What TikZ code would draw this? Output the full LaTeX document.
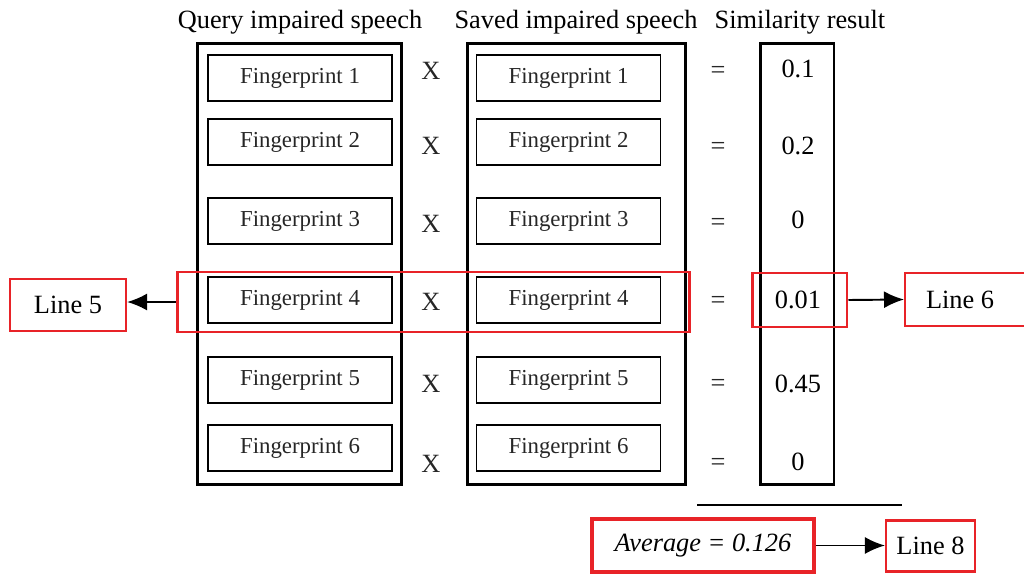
\documentclass[tikz,border=0pt]{standalone}
\usepackage{fontspec}
\setmainfont{Liberation Serif}
\usetikzlibrary{arrows.meta,positioning}
\definecolor{markred}{RGB}{232,35,40}

\begin{document}
\begin{tikzpicture}[
			x=0.02cm, y=-0.02cm,
			column/.style={draw, line width=1.7pt, minimum height=8.84cm, inner sep=0pt},
			fingerprint/.style={draw, line width=1.1pt, minimum width=3.68cm, minimum height=0.92cm, text=black!85, font=\fontsize{13}{15}\selectfont},
			title/.style={font=\fontsize{15}{18}\selectfont},
			sign/.style={font=\fontsize{15}{18}\selectfont, text=black!85},
			value/.style={font=\fontsize{15}{18}\selectfont},
			markbox/.style={draw=markred, line width=1.7pt, inner sep=0pt},
			linebox/.style={draw=markred, line width=1.2pt, font=\fontsize{15}{18}\selectfont},
			pointer/.style={-{Latex[length=4mm, width=3.4mm]}, line width=1.1pt}
			]
			\useasboundingbox (0,0) rectangle (1024,574);
			
			% Titles
			\node[title] (Tq) at (300,22) {Query impaired speech};
			\node[title] (Ts) at (576,22) {Saved impaired speech};
			\node[title] (Tr) at (800,22) {Similarity result};
			
			% Columns
			\node[column, minimum width=4.1cm] (Qcol) at (299.5,264) {};
			\node[column, minimum width=4.38cm] (Scol) at (576.5,264) {};
			\node[column, minimum width=1.48cm] (Rcol) at (797,264) {};
			
			% Query fingerprints
			\node[fingerprint] (Q1) at (300,78) {Fingerprint 1};
			\node[fingerprint] (Q2) at (300,142) {Fingerprint 2};
			\node[fingerprint] (Q3) at (300,221) {Fingerprint 3};
			\node[fingerprint] (Q4) at (300,300) {Fingerprint 4};
			\node[fingerprint] (Q5) at (300,380) {Fingerprint 5};
			\node[fingerprint] (Q6) at (300,448) {Fingerprint 6};
			
			% Saved fingerprints
			\node[fingerprint] (S1) at (568.5,78) {Fingerprint 1};
			\node[fingerprint] (S2) at (568.5,142) {Fingerprint 2};
			\node[fingerprint] (S3) at (568.5,221) {Fingerprint 3};
			\node[fingerprint] (S4) at (568.5,300) {Fingerprint 4};
			\node[fingerprint] (S5) at (568.5,380) {Fingerprint 5};
			\node[fingerprint] (S6) at (568.5,448) {Fingerprint 6};
			
			% Products
			\node[sign] (X1) at (431,71) {X};
			\node[sign] (X2) at (431,146) {X};
			\node[sign] (X3) at (431,224) {X};
			\node[sign] (X4) at (431,302) {X};
			\node[sign] (X5) at (431,384) {X};
			\node[sign] (X6) at (431,464) {X};
			
			\node[sign] (E1) at (718,72) {=};
			\node[sign] (E2) at (718,148) {=};
			\node[sign] (E3) at (718,224) {=};
			\node[sign] (E4) at (718,302) {=};
			\node[sign] (E5) at (718,385) {=};
			\node[sign] (E6) at (718,464) {=};
			
			% Similarity values
			\node[value] (R1) at (798,69) {0.1};
			\node[value] (R2) at (798,146) {0.2};
			\node[value] (R3) at (798,220) {0};
			\node[value] (R4) at (798,300) {0.01};
			\node[value] (R5) at (798,384) {0.45};
			\node[value] (R6) at (798,462) {0};
			
			% Highlighted row
			\node[markbox, minimum width=10.26cm, minimum height=1.2cm] (Row4) at (433.5,302) {};
			\node[markbox, minimum width=1.9cm, minimum height=1.08cm] (Sim4) at (799.5,300) {};
			
			% Line references
			\node[linebox, minimum width=2.32cm, minimum height=1.04cm] (Line5) at (68,305) {Line 5};
			\node[linebox, anchor=west, minimum height=1.06cm, inner xsep=0.42cm] (Line6) at (904,299.5) {\makebox[2cm][l]{Line 6}};
			\draw[pointer] (Row4.west) -- (Line5.east |- Row4.west);
			\draw[pointer] (Sim4.east) -- (Line6.west);
			
			% Average
			\coordinate (RuleL) at (697,505);
			\coordinate (RuleR) at (902,505);
			\draw[line width=0.9pt] (RuleL) -- (RuleR);
			\node[markbox, line width=2pt, minimum width=4.44cm, minimum height=1.06cm, font=\fontsize{15}{18}\selectfont] (Avg) at (703,545.5) {\textit{Average = 0.126}};
			\node[linebox, minimum width=1.78cm, minimum height=1.02cm] (Line8) at (930.5,546) {Line 8};
			\draw[pointer] (Avg.east) -- (Avg.east -| Line8.west);
			
		\end{tikzpicture}
\end{document}
